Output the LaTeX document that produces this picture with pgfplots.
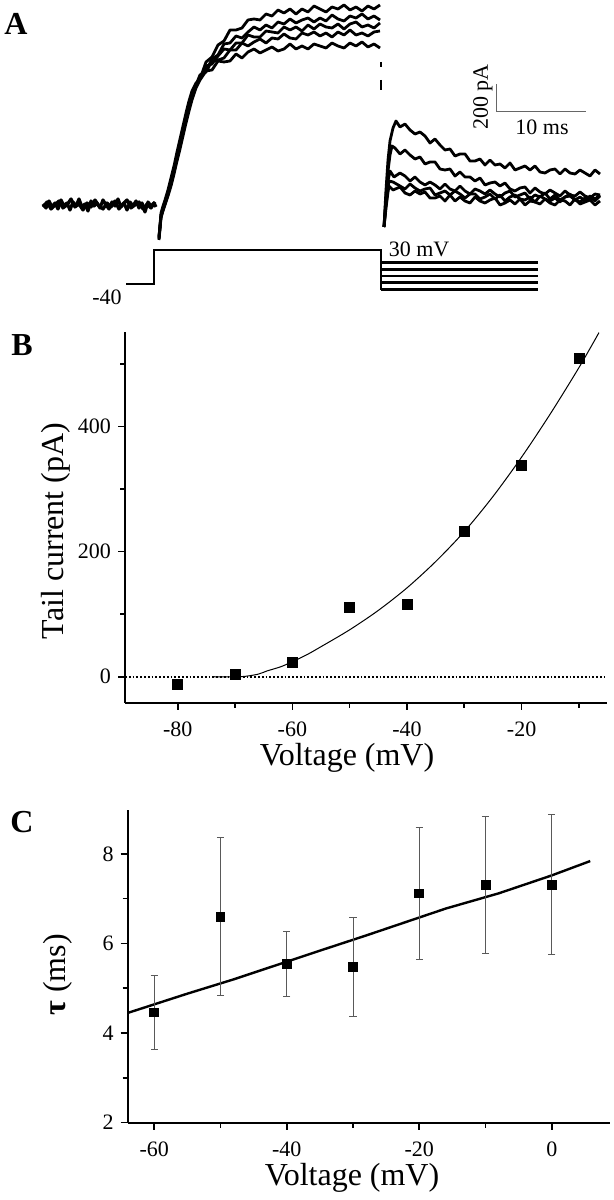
\documentclass[border=0pt]{standalone}
\usepackage{fontspec}
\setmainfont{Liberation Serif}
\usepackage{pgfplots}
\pgfplotsset{compat=1.18}

% picture units: 1 px of the reference = 0.5pt, y measured from the top
\newcommand{\pxy}[2]{({#1*0.5pt},{600pt-#2*0.5pt})}

\pgfplotsset{
  panel/.style={
    scale only axis, clip=false,
    axis x line=bottom, axis y line=left,
    axis line style={-, line width=1.1pt},
    tick align=outside,
    major tick length=3.5pt, minor tick length=2.5pt,
    tick style={line width=0.8pt, black},
    tick label style={font=\fontsize{11}{12}\selectfont},
    xticklabel style={yshift=-2.5pt},
  },
  trace/.style={black, line width=1.4pt, line join=round, no marks},
}

\begin{document}
\begin{tikzpicture}
\path[use as bounding box] (0,0) rectangle (307pt,600pt);

% ---------------- A: current traces and voltage protocol (pixel coords)
\begin{axis}[
  at={(0pt,445pt)}, anchor=south west,
  scale only axis, width=307pt, height=155pt,
  xmin=0, xmax=614, ymin=0, ymax=310, y dir=reverse,
  axis lines=none, clip=false,
]
% holding current
\addplot[trace, line width=1.6pt] coordinates {
(43,204) (46,208) (49,201) (52,207) (55,203) (58,209) (61,200) (64,206) (67,203) (70,210)
(73,202) (76,206) (79,199) (82,207) (85,204) (88,211) (91,201) (94,206) (97,203) (100,208)
(103,200) (106,205) (109,209) (112,202) (115,206) (118,199) (121,207) (124,203) (127,210) (130,202)
(133,206) (136,201) (139,208) (142,203) (145,212) (148,202) (151,206) (154,203) (156,207)};
\addplot[trace, line width=1.6pt] coordinates {
(43,207) (47,202) (51,209) (55,205) (59,201) (63,208) (67,205) (71,199) (75,207) (79,204)
(83,210) (87,203) (91,207) (95,200) (99,206) (103,209) (107,203) (111,207) (115,201) (119,209)
(123,204) (127,200) (131,208) (135,205) (139,202) (143,209) (147,204) (151,208) (155,202)};
% activation at +30 mV
\addplot[trace] coordinates {
(159,238) (161,213) (163,206) (165,200) (168,190) (171,178) (174,166) (177,152) (180,139) (183,126)
(186,113) (189,101) (192,91) (196,83)
(200,79) (206,62) (212,57) (218,45) (224,41) (230,30) (236,30) (242,28) (248,20) (254,19)
(260,20) (266,14) (272,16) (278,10) (284,13) (290,9) (296,14) (302,9) (308,12) (314,6)
(320,9) (326,12) (332,7) (338,9) (344,5) (350,10) (356,7) (362,11) (368,6) (374,9) (380,5)};
\addplot[trace] coordinates {
(159,236) (161,216) (163,209) (165,202) (168,192) (171,182) (174,170) (177,157) (180,144) (183,131)
(186,118) (189,106) (192,95) (196,85)
(200,75) (206,71) (212,59) (218,55) (224,44) (230,43) (236,36) (242,38) (248,32) (254,27)
(260,30) (266,25) (272,28) (278,22) (284,24) (290,19) (296,23) (302,20) (308,18) (314,22)
(320,18) (326,21) (332,15) (338,19) (344,21) (350,16) (356,18) (362,14) (368,19) (374,16) (380,20)};
\addplot[trace] coordinates {
(159,240) (161,218) (163,210) (165,204) (168,194) (171,184) (174,172) (177,159) (180,146) (183,133)
(186,120) (189,108) (192,97) (196,86)
(200,78) (206,66) (212,64) (218,56) (224,49) (230,50) (236,43) (242,43) (248,35) (254,37)
(260,37) (266,31) (272,32) (278,33) (284,27) (290,30) (296,27) (302,31) (308,25) (314,29)
(320,24) (326,27) (332,28) (338,24) (344,29) (350,24) (356,22) (362,27) (368,25) (374,28) (380,23)};
\addplot[trace] coordinates {
(159,239) (161,215) (163,208) (165,203) (168,193) (171,183) (174,171) (177,158) (180,145) (183,132)
(186,119) (189,107) (192,96) (196,86)
(200,76) (206,72) (212,61) (218,60) (224,58) (230,50) (236,50) (242,43) (248,46) (254,42)
(260,39) (266,43) (272,38) (278,39) (284,34) (290,38) (296,39) (302,33) (308,35) (314,32)
(320,36) (326,33) (332,37) (338,32) (344,35) (350,30) (356,35) (362,33) (368,36) (374,32) (380,31)};
\addplot[trace] coordinates {
(159,237) (161,217) (163,211) (165,205) (168,196) (171,186) (174,174) (177,161) (180,149) (183,136)
(186,123) (189,111) (192,100) (196,88)
(200,80) (206,71) (212,70) (218,61) (224,62) (230,61) (236,54) (242,58) (248,52) (254,49)
(260,53) (266,50) (272,47) (278,51) (284,49) (290,44) (296,49) (302,46) (308,49) (314,44)
(320,46) (326,48) (332,43) (338,46) (344,48) (350,43) (356,46) (362,42) (368,47) (374,44) (380,48)};
% capacity transient remnants
\addplot[trace, line width=0.9pt] coordinates {(381,62) (381,67)};
\addplot[trace, line width=0.9pt] coordinates {(381,80) (381,90)};
% tail currents
\addplot[trace] coordinates {
(384,227) (386,190) (388,160) (390,141) (393,128) (396,121) (398,124)
(400,127) (405,124) (410,130) (415,134) (420,132) (425,136) (430,143) (435,139) (440,145) (445,150)
(450,149) (455,156) (460,154) (465,154) (470,161) (475,161) (480,159) (485,165) (490,160) (495,165)
(500,164) (505,168) (510,163) (515,170) (520,168) (525,166) (530,170) (535,166) (540,172) (545,173)
(550,170) (555,169) (560,174) (565,169) (570,173) (575,174) (580,170) (585,173) (590,176) (595,170) (600,174)};
\addplot[trace] coordinates {
(384,227) (386,196) (388,171) (390,155) (392,146)
(395,148) (400,154) (405,150) (410,155) (415,159) (420,157) (425,164) (430,162) (435,162) (440,169)
(445,170) (450,169) (455,176) (460,172) (465,177) (470,177) (475,181) (480,178) (485,185) (490,183)
(495,182) (500,186) (505,183) (510,189) (515,191) (520,188) (525,187) (530,193) (535,188) (540,192)
(545,194) (550,190) (555,193) (560,196) (565,191) (570,195) (575,196) (580,192) (585,196) (590,198) (595,194) (600,195)};
\addplot[trace] coordinates {
(384,227) (386,201) (388,181) (390,171)
(394,177) (400,173) (405,176) (410,181) (415,177) (420,182) (425,185) (430,182) (435,185) (440,189)
(445,184) (450,189) (455,191) (460,186) (465,191) (470,194) (475,189) (480,191) (485,194) (490,190)
(495,194) (500,197) (505,193) (510,191) (515,197) (520,195) (525,193) (530,199) (535,195) (540,197)
(545,193) (550,199) (555,195) (560,200) (565,197) (570,194) (575,200) (580,197) (585,201) (590,196) (595,199) (600,195)};
\addplot[trace] coordinates {
(384,227) (386,205) (388,188) (389,181)
(393,182) (400,186) (405,189) (410,184) (415,188) (420,191) (425,189) (430,188) (435,195) (440,193)
(445,191) (450,195) (455,191) (460,194) (465,198) (470,194) (475,194) (480,199) (485,197) (490,194)
(495,199) (500,195) (505,201) (510,197) (515,195) (520,199) (525,200) (530,197) (535,202) (540,196)
(545,199) (550,201) (555,198) (560,202) (565,197) (570,196) (575,200) (580,202) (585,198) (590,197) (595,201) (600,196)};
\addplot[trace] coordinates {
(384,227) (386,208) (388,192) (389,186)
(393,190) (400,187) (405,193) (410,195) (415,191) (420,194) (425,192) (430,198) (435,198) (440,196)
(445,201) (450,195) (455,201) (460,197) (465,201) (470,203) (475,197) (480,201) (485,203) (490,200)
(495,198) (500,205) (505,203) (510,200) (515,204) (520,199) (525,205) (530,201) (535,202) (540,204)
(545,199) (550,203) (555,205) (560,200) (565,201) (570,205) (575,199) (580,204) (585,202) (590,200) (595,205) (600,201)};
% scale bar
\addplot[black!60, line width=0.5pt] coordinates {(496,84) (496,112) (586,112)};
% voltage protocol
\addplot[black, line width=1.35pt, line join=miter] coordinates {(126,284) (154,284) (154,250) (381,250) (381,290)};
\addplot[black, line width=1.35pt] coordinates {(381,262.7) (538,262.7)};
\addplot[black, line width=1.35pt] coordinates {(381,269.3) (538,269.3)};
\addplot[black, line width=1.35pt] coordinates {(381,276) (538,276)};
\addplot[black, line width=1.35pt] coordinates {(381,282.7) (538,282.7)};
\addplot[black, line width=1.35pt] coordinates {(381,289.3) (538,289.3)};
\end{axis}

% ---------------- B: tail current vs voltage
\begin{axis}[panel,
  at={(62.5pt,248.5pt)}, anchor=south west,
  width=241pt, height=185.5pt,
  xmin=-89.2, xmax=-5.1, ymin=-42, ymax=551,
  xtick={-80,-60,-40,-20}, xticklabels={-80,-60,-40,-20},
  minor xtick={-70,-50,-30,-10},
  ytick={0,200,400}, yticklabels={0,200,400},
  minor ytick={100,300,500},
]
\addplot[black, line width=0.9pt, densely dotted] coordinates {(-89.2,0) (-5.6,0)};
\addplot[black, line width=0.5pt, smooth] coordinates {
(-74,0) (-69,0) (-66,4) (-64.5,9) (-62,16) (-60,24) (-57.5,35) (-55,48) (-50,75) (-45,106)
(-40,142) (-35,184) (-30,232) (-25,288) (-20,351) (-15,420) (-10,494) (-6.5,550)};
\addplot[only marks, mark=square*, mark size=2.5pt, black] coordinates {
(-80,-12) (-70,4) (-60,23) (-50,110) (-40,116) (-30,232) (-20,338) (-10,509)};
\end{axis}

% ---------------- C: time constant vs voltage
\begin{axis}[panel,
  at={(63.85pt,38.65pt)}, anchor=south west,
  width=241.2pt, height=156.35pt,
  xmin=-64, xmax=8.8, ymin=2, ymax=8.98,
  xtick={-60,-40,-20,0}, xticklabels={-60,-40,-20,0},
  minor xtick={-50,-30,-10},
  ytick={2,4,6,8}, yticklabels={2,4,6,8},
  minor ytick={3,5,7},
]
\addplot[black, line width=1.2pt] coordinates {
(-64,4.45) (-55,4.88) (-48,5.20) (-35,5.84) (-28,6.18) (-16,6.78) (-8,7.12) (0,7.52) (5.8,7.84)};
\addplot[only marks, mark=square*, mark size=2.2pt, black,
  error bars/.cd, y dir=both, y explicit,
  error bar style={line width=0.45pt, black!65},
  error mark options={rotate=90, mark size=1.8pt, line width=0.45pt, black!65},
] coordinates {
(-60,4.46) +- (0,0.82)
(-50,6.60) +- (0,1.77)
(-40,5.55) +- (0,0.73)
(-30,5.48) +- (0,1.10)
(-20,7.12) +- (0,1.48)
(-10,7.31) +- (0,1.53)
(0,7.31) +- (0,1.56)};
\end{axis}

% ---------------- texts
\begin{scope}[font=\fontsize{16}{18}\selectfont\bfseries]
\node at \pxy{16}{24} {A};
\node at \pxy{22}{345} {B};
\node at \pxy{22}{822} {C};
\end{scope}
\begin{scope}[font=\fontsize{11}{13}\selectfont]
\node[anchor=east, inner sep=0pt] at \pxy{122}{297} {-40};
\node at \pxy{419}{249} {30 mV};
\node[rotate=90] at \pxy{483}{97} {200 pA};
\node at \pxy{542}{127} {10 ms};
\end{scope}
\begin{scope}[font=\fontsize{16}{18}\selectfont]
\node[rotate=90] at \pxy{56}{531} {Tail current (pA)};
\node at \pxy{347}{758} {Voltage (mV)};
\node[rotate=90] at \pxy{58}{975} {\textbf{τ} (ms)};
\node at \pxy{352}{1178} {Voltage (mV)};
\end{scope}
\end{tikzpicture}
\end{document}
